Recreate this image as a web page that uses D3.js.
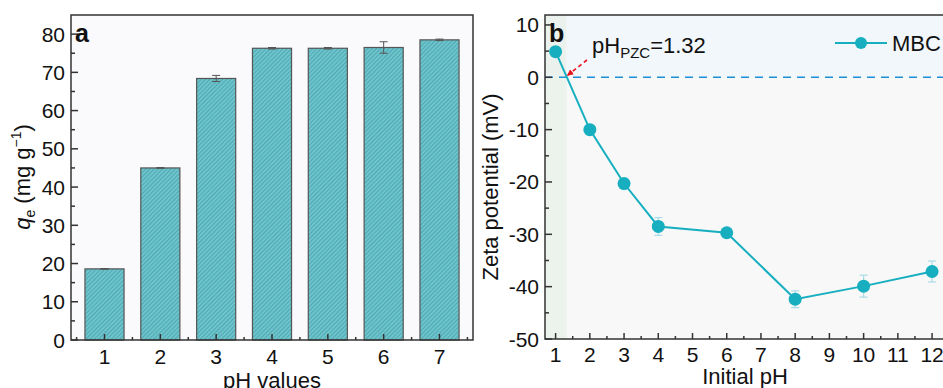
<!DOCTYPE html>
<html>
<head>
<meta charset="utf-8">
<script src="https://d3js.org/d3.v7.min.js"></script>
<style>
  body { margin: 0; background: #fff; }
  text { font-family: "Liberation Sans", Arial, sans-serif; fill: #111; }
</style>
</head>
<body>
<svg id="fig" width="943" height="388"></svg>
<script>
// panel a data
const phA = [1, 2, 3, 4, 5, 6, 7];
const qe = [18.6, 45.0, 68.4, 76.3, 76.3, 76.5, 78.5];
const qeErr = [0.1, 0.1, 0.8, 0.2, 0.2, 1.5, 0.2];
const yTicksA = [0, 10, 20, 30, 40, 50, 60, 70, 80];

// panel b data
const phB = [1, 2, 3, 4, 6, 8, 10, 12];
const zeta = [4.9, -10.0, -20.3, -28.5, -29.7, -42.4, -39.9, -37.1];
const zetaErr = [0.4, 0.4, 0.4, 1.7, 0.4, 1.6, 2.1, 2.0];
const xTicksB = [1, 2, 3, 4, 5, 6, 7, 8, 9, 10, 11, 12];
const yTicksB = [-50, -40, -30, -20, -10, 0, 10];
const pzc = 1.32;

const svg = d3.select("#fig");
const fs = 21;   // tick labels
const lfs = 22;  // axis titles
const teal = "#17afc0";

// hatch pattern for bars
const defs = svg.append("defs");
const pat = defs.append("pattern")
  .attr("id", "hatch")
  .attr("patternUnits", "userSpaceOnUse")
  .attr("width", 3).attr("height", 3)
  .attr("patternTransform", "rotate(45)");
pat.append("rect").attr("width", 3).attr("height", 3).attr("fill", "#6cc4cd");
pat.append("line").attr("x1", 0).attr("y1", 0).attr("x2", 0).attr("y2", 3)
  .attr("stroke", "#3d8f99").attr("stroke-width", 1.1);

function drawTicks(g, scale, values, orient, len) {
  // inward ticks
  values.forEach(v => {
    if (orient === "bottom") {
      g.append("line").attr("x1", scale(v)).attr("x2", scale(v))
        .attr("y1", 0).attr("y2", -len).attr("stroke", "#333").attr("stroke-width", 1.5);
    } else {
      g.append("line").attr("y1", scale(v)).attr("y2", scale(v))
        .attr("x1", 0).attr("x2", len).attr("stroke", "#333").attr("stroke-width", 1.5);
    }
  });
}

// ---------- panel a ----------
const A = { l: 71, r: 473, t: 15, b: 340 };
const xA = d3.scaleLinear().domain([0.4, 7.6]).range([A.l, A.r]);
const yA = d3.scaleLinear().domain([0, 85]).range([A.b, A.t]);

svg.append("rect").attr("x", A.l).attr("y", A.t)
  .attr("width", A.r - A.l).attr("height", A.b - A.t).attr("fill", "#fafafc");

const bw = xA(0.7) - xA(0);
svg.append("g").selectAll("rect").data(phA).join("rect")
  .attr("x", d => xA(d) - bw / 2)
  .attr("y", (d, i) => yA(qe[i]))
  .attr("width", bw)
  .attr("height", (d, i) => yA(0) - yA(qe[i]))
  .attr("fill", "url(#hatch)")
  .attr("stroke", "#555").attr("stroke-width", 1.2);

const errA = svg.append("g").attr("stroke", "#555").attr("stroke-width", 1);
phA.forEach((p, i) => {
  const x = xA(p), y1 = yA(qe[i] + qeErr[i]), y2 = yA(qe[i] - qeErr[i]);
  errA.append("line").attr("x1", x).attr("x2", x).attr("y1", y1).attr("y2", y2);
  errA.append("line").attr("x1", x - 4).attr("x2", x + 4).attr("y1", y1).attr("y2", y1);
  errA.append("line").attr("x1", x - 4).attr("x2", x + 4).attr("y1", y2).attr("y2", y2);
});

svg.append("rect").attr("x", A.l).attr("y", A.t)
  .attr("width", A.r - A.l).attr("height", A.b - A.t)
  .attr("fill", "none").attr("stroke", "#333").attr("stroke-width", 1.5);

const gxA = svg.append("g").attr("transform", `translate(0,${A.b})`);
drawTicks(gxA, xA, phA, "bottom", 6);
drawTicks(gxA, xA, [0.5, 1.5, 2.5, 3.5, 4.5, 5.5, 6.5, 7.5], "bottom", 3);
gxA.selectAll("text.t").data(phA).join("text")
  .attr("x", d => xA(d)).attr("y", 24).attr("text-anchor", "middle")
  .attr("font-size", fs).text(d => d);

const gyA = svg.append("g").attr("transform", `translate(${A.l},0)`);
drawTicks(gyA, yA, yTicksA, "left", 7);
drawTicks(gyA, yA, d3.range(5, 85, 10), "left", 4);
gyA.selectAll("text.t").data(yTicksA).join("text")
  .attr("x", -6).attr("y", d => yA(d) + 7.5).attr("text-anchor", "end")
  .attr("font-size", fs).text(d => d);

svg.append("text").attr("x", 75).attr("y", 42)
  .attr("font-size", 25).attr("font-weight", "bold").text("a");

svg.append("text").attr("x", (A.l + A.r) / 2).attr("y", 388)
  .attr("text-anchor", "middle").attr("font-size", lfs).text("pH values");

const labA = svg.append("text").attr("transform", "translate(30,177) rotate(-90)")
  .attr("text-anchor", "middle").attr("font-size", lfs);
labA.append("tspan").attr("font-style", "italic").text("q");
labA.append("tspan").attr("font-size", 14).attr("dy", 5).text("e");
labA.append("tspan").attr("dy", -5).text(" (mg g");
labA.append("tspan").attr("font-size", 14).attr("dy", -9).text("\u22121");
labA.append("tspan").attr("dy", 9).text(")");

// ---------- panel b ----------
const B = { l: 545, r: 955, t: 15, b: 339 };
const xB = d3.scaleLinear().domain([0.69, 12.67]).range([B.l, B.r]);
const yB = d3.scaleLinear().domain([-50, 11.9]).range([B.b, B.t]);

svg.append("rect").attr("x", B.l).attr("y", B.t)
  .attr("width", B.r - B.l).attr("height", B.b - B.t).attr("fill", "#f8f8f8");
svg.append("rect").attr("x", B.l).attr("y", B.t)
  .attr("width", B.r - B.l).attr("height", yB(0) - B.t).attr("fill", "#f1f7fb");
svg.append("rect").attr("x", B.l).attr("y", B.t)
  .attr("width", xB(pzc) - B.l).attr("height", B.b - B.t).attr("fill", "#eaf1ea").attr("opacity", 0.85);

svg.append("line").attr("x1", B.l).attr("x2", B.r).attr("y1", yB(0)).attr("y2", yB(0))
  .attr("stroke", "#1f8ed6").attr("stroke-width", 1.6).attr("stroke-dasharray", "8,6");

// error bars
const errB = svg.append("g").attr("stroke", "#a9dbe6").attr("stroke-width", 1.2);
phB.forEach((p, i) => {
  const x = xB(p), y1 = yB(zeta[i] + zetaErr[i]), y2 = yB(zeta[i] - zetaErr[i]);
  errB.append("line").attr("x1", x).attr("x2", x).attr("y1", y1).attr("y2", y2);
  errB.append("line").attr("x1", x - 4).attr("x2", x + 4).attr("y1", y1).attr("y2", y1);
  errB.append("line").attr("x1", x - 4).attr("x2", x + 4).attr("y1", y2).attr("y2", y2);
});

const line = d3.line().x((d, i) => xB(phB[i])).y(d => yB(d));
svg.append("path").datum(zeta).attr("d", line)
  .attr("fill", "none").attr("stroke", teal).attr("stroke-width", 2);
svg.append("g").selectAll("circle").data(zeta).join("circle")
  .attr("cx", (d, i) => xB(phB[i])).attr("cy", d => yB(d)).attr("r", 6.5)
  .attr("fill", teal);

svg.append("rect").attr("x", B.l).attr("y", B.t)
  .attr("width", B.r - B.l).attr("height", B.b - B.t)
  .attr("fill", "none").attr("stroke", "#333").attr("stroke-width", 1.5);

const gxB = svg.append("g").attr("transform", `translate(0,${B.b})`);
drawTicks(gxB, xB, xTicksB, "bottom", 6);
drawTicks(gxB, xB, d3.range(1.5, 12.6, 1), "bottom", 3);
gxB.selectAll("text.t").data(xTicksB).join("text")
  .attr("x", d => xB(d)).attr("y", 23).attr("text-anchor", "middle")
  .attr("font-size", fs).text(d => d);

const gyB = svg.append("g").attr("transform", `translate(${B.l},0)`);
drawTicks(gyB, yB, yTicksB, "left", 7);
drawTicks(gyB, yB, d3.range(-45, 10, 10), "left", 4);
gyB.selectAll("text.t").data(yTicksB).join("text")
  .attr("x", -6).attr("y", d => yB(d) + 7.5).attr("text-anchor", "end")
  .attr("font-size", fs).text(d => d);

svg.append("text").attr("x", 549).attr("y", 42)
  .attr("font-size", 25).attr("font-weight", "bold").text("b");

svg.append("text").attr("x", 745).attr("y", 384)
  .attr("text-anchor", "middle").attr("font-size", lfs).text("Initial pH");

svg.append("text").attr("transform", "translate(498,187) rotate(-90)")
  .attr("text-anchor", "middle").attr("font-size", lfs).text("Zeta potential (mV)");

// pzc annotation
defs.append("marker").attr("id", "arr").attr("viewBox", "0 0 10 10")
  .attr("refX", 9).attr("refY", 5).attr("markerWidth", 4).attr("markerHeight", 4)
  .attr("orient", "auto")
  .append("path").attr("d", "M0,0 L10,5 L0,10 z").attr("fill", "#e8141c");
svg.append("line").attr("x1", 587).attr("y1", 60).attr("x2", xB(pzc) + 1).attr("y2", yB(0) - 2)
  .attr("stroke", "#e8141c").attr("stroke-width", 1.6).attr("stroke-dasharray", "4,3")
  .attr("marker-end", "url(#arr)");
const pz = svg.append("text").attr("x", 592).attr("y", 53).attr("font-size", lfs);
pz.append("tspan").text("pH");
pz.append("tspan").attr("font-size", 15).attr("dy", 5).text("PZC");
pz.append("tspan").attr("dy", -5).text("=" + pzc.toFixed(2));

// legend
svg.append("line").attr("x1", 835).attr("x2", 887).attr("y1", 43).attr("y2", 43)
  .attr("stroke", teal).attr("stroke-width", 2);
svg.append("circle").attr("cx", 861).attr("cy", 43).attr("r", 6).attr("fill", teal);
svg.append("text").attr("x", 892).attr("y", 51).attr("font-size", lfs).text("MBC");
</script>
</body>
</html>
